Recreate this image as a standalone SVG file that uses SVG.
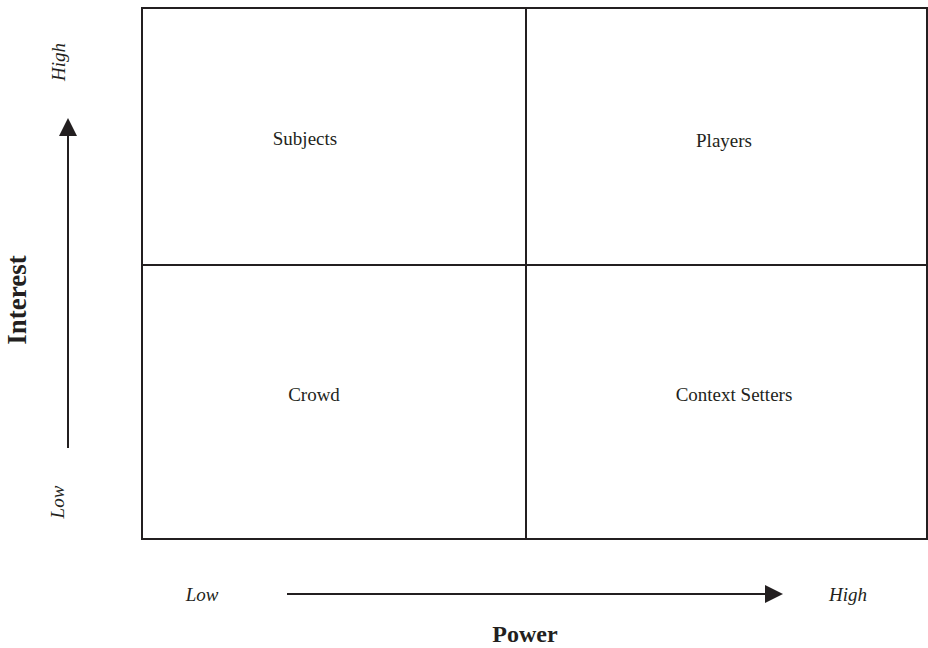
<svg xmlns="http://www.w3.org/2000/svg" width="928" height="648" viewBox="0 0 928 648">
<style>
.ln{stroke:#231f20;stroke-width:2;fill:none}
.lb{font-family:"Liberation Serif",serif;font-size:19px;fill:#231f20;text-anchor:middle}
.it{font-family:"Liberation Serif",serif;font-size:19px;font-style:italic;fill:#231f20;text-anchor:middle}
.ax{font-family:"Liberation Serif",serif;font-size:24px;font-weight:bold;fill:#231f20;text-anchor:middle}
</style>
<rect x="0" y="0" width="928" height="648" fill="#fff"/>
<g id="grid">
<rect class="ln" x="142" y="8" width="785" height="531"/>
<line class="ln" x1="526" y1="8" x2="526" y2="539"/>
<line class="ln" x1="142" y1="265" x2="927" y2="265"/>
</g>
<g id="subjects"><text class="lb" x="305" y="145">Subjects</text></g>
<g id="players"><text class="lb" x="724" y="147">Players</text></g>
<g id="crowd"><text class="lb" x="314" y="401">Crowd</text></g>
<g id="context-setters"><text class="lb" x="734" y="401">Context Setters</text></g>
<g id="connectors">
<line class="ln" x1="68" y1="448" x2="68" y2="136"/>
<path d="M59,136 L68,118 L77,136 Z" fill="#231f20"/>
<line class="ln" x1="287" y1="594" x2="766" y2="594"/>
<path d="M765,585 L783,594 L765,603 Z" fill="#231f20"/>
</g>
<g id="labels">
<text class="it" transform="translate(65,62) rotate(-90)">High</text>
<text class="it" transform="translate(64,502) rotate(-90)">Low</text>
<text class="it" x="202" y="601">Low</text>
<text class="it" x="848" y="601">High</text>
<text class="ax" x="525" y="642">Power</text>
<text class="ax" style="font-size:27px" transform="translate(26,300) rotate(-90)">Interest</text>
</g>
</svg>
